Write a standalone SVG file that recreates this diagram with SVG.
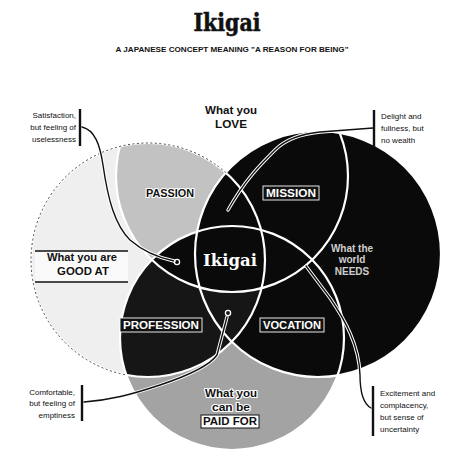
<svg xmlns="http://www.w3.org/2000/svg" width="456" height="455" viewBox="0 0 456 455">
<style>
.ann{font-family:"Liberation Sans",Arial,sans-serif;font-size:8px;fill:#111}
.lbl{font-family:"Liberation Sans",Arial,sans-serif;font-weight:bold;font-size:10px;text-anchor:middle}
.wt{fill:#fff}
.halo{fill:#111;stroke:#fff;stroke-width:2.2px;paint-order:stroke;stroke-linejoin:round}
.edge{fill:none;stroke:#fff;stroke-width:2.2}
.con-w{fill:none;stroke:#fff;stroke-width:3.4;stroke-linecap:round;stroke-linejoin:round}
.con-k{fill:none;stroke:#111;stroke-width:1.4;stroke-linecap:round;stroke-linejoin:round}
.bar{stroke:#111;stroke-width:2.4}
.box{fill:#111;stroke:#fff;stroke-width:0.9}
.dot{fill:none;stroke:#fff;stroke-width:1.3}
</style>
<defs>
<clipPath id="cL"><circle cx="148" cy="260" r="117"/></clipPath>
<clipPath id="cT"><circle cx="232" cy="176" r="116"/></clipPath>
<mask id="mOut"><rect width="456" height="455" fill="#fff"/><circle cx="318" cy="254" r="123" fill="#000"/><circle cx="232" cy="338" r="112" fill="#000"/></mask>
</defs>
<rect width="456" height="455" fill="#fff"/>

<g id="title">
<text x="227" y="31" font-family="DejaVu Serif,serif" font-weight="bold" font-size="25" text-anchor="middle" textLength="67" lengthAdjust="spacingAndGlyphs" fill="#111" stroke="#111" stroke-width="0.6">Ikigai</text>
<text x="232" y="52" font-family="Liberation Sans,Arial,sans-serif" font-weight="bold" font-size="7.2" text-anchor="middle" textLength="233" lengthAdjust="spacingAndGlyphs" fill="#111">A JAPANESE CONCEPT MEANING "A REASON FOR BEING"</text>
</g>

<g id="circle-good-at"><circle cx="148" cy="260" r="117" fill="#efefef"/></g>
<g id="circle-paid-for"><circle cx="232" cy="338" r="112" fill="#a3a3a3"/></g>
<g id="passion"><circle cx="232" cy="176" r="116" fill="#c2c2c2" clip-path="url(#cL)"/></g>
<g id="circle-needs"><circle cx="318" cy="254" r="123" fill="#0a0a0a"/></g>
<g id="profession"><circle cx="232" cy="338" r="112" fill="#161616" clip-path="url(#cL)"/></g>
<g id="center-overlap"><circle cx="232" cy="338" r="112" fill="#0a0a0a" clip-path="url(#cT)"/></g>
<g id="circle-edges">
<circle class="edge" cx="148" cy="260" r="117"/>
<circle class="edge" cx="232" cy="338" r="112"/>
<circle class="edge" cx="318" cy="254" r="123"/>
<circle class="edge" cx="232" cy="176" r="116"/>
<circle cx="148" cy="260" r="117" fill="none" stroke="#444" stroke-width="1" stroke-dasharray="2 2.5" mask="url(#mOut)"/>
</g>

<g id="connectors">
<path class="con-w" d="M82,127 C95,130 100,145 103,165 C108,200 115,225 130,240 C145,253 160,258 174,261"/>
<path class="con-k" d="M82,127 C95,130 100,145 103,165 C108,200 115,225 130,240 C145,253 160,258 174,261"/>
<circle class="dot" cx="177" cy="262" r="2.6"/>
<path class="con-w" d="M373,128 L320,132 C300,134 285,140 275,150 C260,165 245,180 228,210"/>
<path class="con-k" d="M373,128 L320,132 C300,134 285,140 275,150 C260,165 245,180 228,210"/>
<path class="con-w" d="M84,402 C110,400 130,395 160,385 C190,375 210,365 217,355 L227,317"/>
<path class="con-k" d="M84,402 C110,400 130,395 160,385 C190,375 210,365 217,355 L227,317"/>
<circle class="dot" cx="228" cy="313" r="2.6"/>
<path class="con-w" d="M371,408 C362,403 360,390 360,375 C359,345 345,320 330,298 L306,266"/>
<path class="con-k" d="M371,408 C362,403 360,390 360,375 C359,345 345,320 330,298 L306,266"/>
</g>

<g id="node-love">
<text class="lbl" x="231" y="114" textLength="52" lengthAdjust="spacingAndGlyphs" fill="#111">What you</text>
<text class="lbl" x="231" y="128" textLength="32" lengthAdjust="spacingAndGlyphs" fill="#111">LOVE</text>
</g>

<g id="node-good-at">
<rect x="35" y="251" width="93" height="31" fill="#f9f9f9"/>
<line x1="35" y1="251" x2="128" y2="251" stroke="#111" stroke-width="1.5"/>
<line x1="35" y1="282" x2="128" y2="282" stroke="#111" stroke-width="1.5"/>
<text class="lbl" x="82" y="261" textLength="70" lengthAdjust="spacingAndGlyphs" fill="#111">What you are</text>
<text class="lbl halo" x="83" y="275" textLength="52" lengthAdjust="spacingAndGlyphs">GOOD AT</text>
</g>

<g id="node-needs">
<text class="lbl" x="352" y="252" font-size="8.5" font-weight="normal" fill="#cfcfcf">What the</text>
<text class="lbl" x="352" y="263" font-size="8.5" font-weight="normal" fill="#cfcfcf">world</text>
<text class="lbl" x="352" y="275" font-size="8.5" fill="#cfcfcf">NEEDS</text>
</g>

<g id="node-paid-for">
<text class="lbl halo" x="231" y="397" textLength="52" lengthAdjust="spacingAndGlyphs">What you</text>
<text class="lbl halo" x="231" y="411" textLength="38" lengthAdjust="spacingAndGlyphs">can be</text>
<rect x="201" y="415" width="58" height="13" fill="#fff" stroke="#111" stroke-width="1"/>
<text class="lbl" x="230" y="425" textLength="54" lengthAdjust="spacingAndGlyphs" fill="#111">PAID FOR</text>
</g>

<g id="node-passion">
<text class="lbl halo" x="170" y="197" textLength="48" lengthAdjust="spacingAndGlyphs">PASSION</text>
</g>
<g id="node-mission">
<rect class="box" x="263" y="186" width="56" height="14"/>
<text class="lbl wt" x="291" y="197" textLength="50" lengthAdjust="spacingAndGlyphs">MISSION</text>
</g>
<g id="node-profession">
<rect class="box" x="120" y="318" width="82" height="14"/>
<text class="lbl wt" x="161" y="329" textLength="76" lengthAdjust="spacingAndGlyphs">PROFESSION</text>
</g>
<g id="node-vocation">
<rect class="box" x="260" y="318" width="64" height="14"/>
<text class="lbl wt" x="292" y="329" textLength="58" lengthAdjust="spacingAndGlyphs">VOCATION</text>
</g>
<g id="node-ikigai">
<text x="230" y="266" font-family="DejaVu Serif,serif" font-weight="bold" font-size="17" text-anchor="middle" textLength="54" lengthAdjust="spacingAndGlyphs" fill="#fff">Ikigai</text>
</g>

<g id="note-satisfaction">
<line class="bar" x1="80" y1="109" x2="80" y2="146"/>
<text class="ann" x="76" y="118" text-anchor="end">Satisfaction,</text>
<text class="ann" x="76" y="130" text-anchor="end">but feeling of</text>
<text class="ann" x="76" y="142" text-anchor="end">uselessness</text>
</g>
<g id="note-delight">
<line class="bar" x1="374" y1="110" x2="374" y2="147"/>
<text class="ann" x="381" y="119">Delight and</text>
<text class="ann" x="381" y="131">fullness, but</text>
<text class="ann" x="381" y="143">no wealth</text>
</g>
<g id="note-comfortable">
<line class="bar" x1="82" y1="385" x2="82" y2="421"/>
<text class="ann" x="75" y="395" text-anchor="end">Comfortable,</text>
<text class="ann" x="75" y="406" text-anchor="end">but feeling of</text>
<text class="ann" x="75" y="418" text-anchor="end">emptiness</text>
</g>
<g id="note-excitement">
<line class="bar" x1="373" y1="386" x2="373" y2="436"/>
<text class="ann" x="380" y="396">Excitement and</text>
<text class="ann" x="380" y="408">complacency,</text>
<text class="ann" x="380" y="420">but sense of</text>
<text class="ann" x="380" y="432">uncertainty</text>
</g>
</svg>
